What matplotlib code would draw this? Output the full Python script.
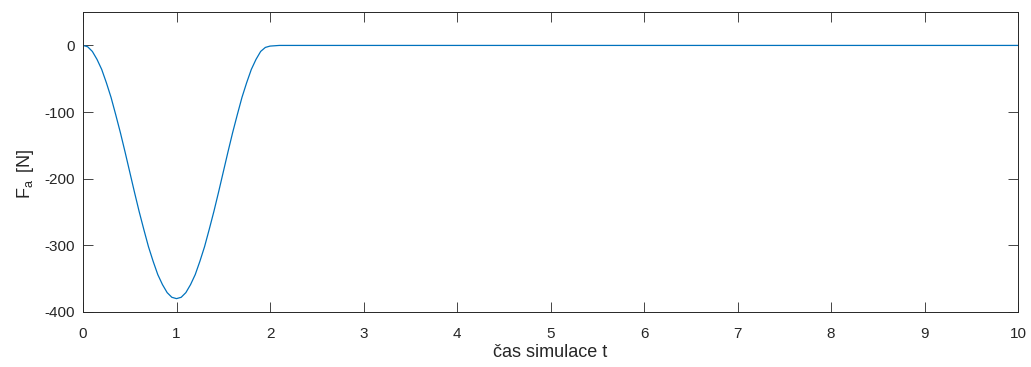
import numpy as np
import matplotlib.pyplot as plt

plt.rcParams['font.family'] = ['Liberation Sans', 'DejaVu Sans']
plt.rcParams['mathtext.fontset'] = 'custom'
plt.rcParams['mathtext.rm'] = 'Liberation Sans'
plt.rcParams['axes.unicode_minus'] = False

# values
t = [0.0, 0.05, 0.1, 0.15, 0.2, 0.25, 0.3, 0.35, 0.4, 0.45, 0.5,
     0.55, 0.6, 0.65, 0.7, 0.75, 0.8, 0.85, 0.9, 0.95, 1.0,
     1.05, 1.1, 1.15, 1.2, 1.25, 1.3, 1.35, 1.4, 1.45, 1.5,
     1.55, 1.6, 1.65, 1.7, 1.75, 1.8, 1.85, 1.9, 1.95, 2.0,
     2.1, 2.2, 10.0]
fa = [0, -2, -9, -21, -36, -56, -78, -104, -131, -160, -190,
      -220, -249, -276, -302, -324, -344, -359, -371, -378, -380,
      -378, -371, -359, -344, -324, -302, -276, -249, -220, -190,
      -160, -131, -104, -78, -56, -36, -21, -9, -3, -1,
      0, 0, 0]

xticks = list(range(0, 11))
yticks = [-400, -300, -200, -100, 0]

fig = plt.figure(figsize=(10.31, 3.67), dpi=100)
ax = fig.add_axes([0.0805, 0.150, 0.907, 0.817])

ax.plot(t, fa, color='#0072BD', lw=0.9)

ax.set_xlim(0, 10)
ax.set_ylim(-400, 50)
ax.set_xticks(xticks)
ax.set_yticks(yticks)

ax.tick_params(direction='in', length=7, width=0.6, color='#262626',
               labelsize=11, labelcolor='#262626', top=True, right=True)
ax.tick_params(axis='x', pad=11)
ax.tick_params(axis='y', pad=6)
for s in ax.spines.values():
    s.set_linewidth(0.7)
    s.set_color('#262626')

ax.set_xlabel('čas simulace t', fontsize=13, color='#262626', labelpad=2)
ax.set_ylabel(r'F$_\mathregular{a}$ $\,$[N]', fontsize=13, color='#262626')
ax.yaxis.set_label_coords(-0.05, 0.46)

fig.savefig('out.png', dpi=100)
